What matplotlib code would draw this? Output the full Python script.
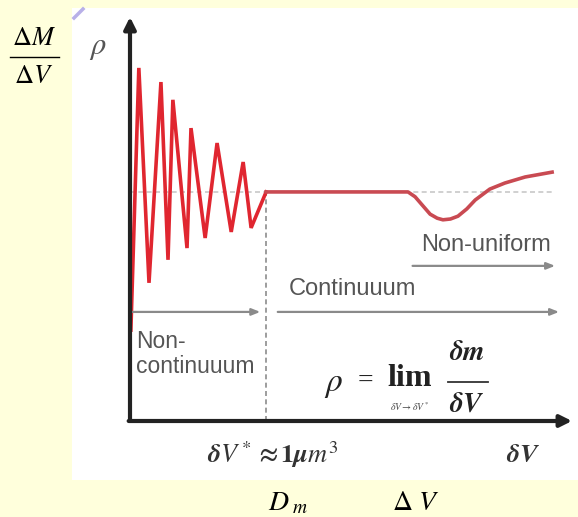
import matplotlib
matplotlib.use("Agg")
import matplotlib.pyplot as plt
from matplotlib.patches import Rectangle
from matplotlib.lines import Line2D

plt.rcParams['mathtext.fontset'] = 'stix'

# ---- data (δV in arbitrary units 0..10, ρ in arbitrary units 0..10) ----
osc_v   = [0.02, 0.20, 0.43, 0.70, 0.86, 0.97, 1.29, 1.38, 1.70, 1.97, 2.29, 2.56, 2.74, 3.08]
osc_rho = [2.25, 8.74, 3.42, 8.39, 3.99, 7.95, 4.28, 7.25, 4.53, 6.88, 4.68, 6.41, 4.78, 5.67]
cont_v   = [3.08, 6.29, 6.45, 6.60, 6.79, 6.95, 7.08, 7.25, 7.42, 7.62, 7.81, 8.14, 8.48, 8.94, 9.55]
cont_rho = [5.67, 5.67, 5.55, 5.36, 5.12, 5.02, 4.98, 5.00, 5.07, 5.25, 5.47, 5.74, 5.89, 6.04, 6.16]
rho_level = 5.67
dv_star = 3.08
continuum_rho = 2.70
nonuniform_rho = 3.84
nonuniform_start = 6.33
labels = {"nonuniform": "Non-uniform", "continuum": "Continuuum",
          "noncont": "Non-\ncontinuuum"}

W, H = 578, 517
fig = plt.figure(figsize=(W / 100, H / 100), dpi=100, facecolor='#FFFFDC')

def F(x, y):
    return (x / W, 1 - y / H)

# white picture area
fig.add_artist(Rectangle(F(72, 480), (578 - 72) / W, (480 - 8) / H,
                         transform=fig.transFigure, facecolor='white',
                         edgecolor='none', zorder=0))
# small lavender mark in the corner
fig.add_artist(Line2D([74 / W, 83 / W], [1 - 18 / H, 1 - 9 / H],
                      transform=fig.transFigure, color='#B8B0E8', lw=2.5))

ax = fig.add_axes([130 / W, (H - 421) / H, (572 - 130) / W, (421 - 17) / H])
ax.set_xlim(0, 10)
ax.set_ylim(0, 10)
ax.axis('off')
ax.patch.set_alpha(0)

# reference level (dotted)
ax.plot([0, 9.6], [rho_level, rho_level], color='#C8C8C8', lw=1.2,
        ls=(0, (3, 2)), zorder=1)
# δV* vertical dashed
ax.plot([dv_star, dv_star], [0, rho_level], color='#8C8C8C', lw=1.2,
        ls=(0, (3, 2)), zorder=1)

# red curve
ax.plot(osc_v, osc_rho, color='#E02630', lw=2.6, solid_joinstyle='miter', zorder=3)
ax.plot(cont_v, cont_rho, color='#C94A52', lw=2.6, zorder=3)

# region arrows
arrow_kw = dict(arrowstyle='-|>,head_length=0.5,head_width=0.2', color='#8A8A8A', lw=1.6)
ax.annotate('', xy=(9.68, nonuniform_rho), xytext=(nonuniform_start, nonuniform_rho),
            arrowprops=arrow_kw)
ax.annotate('', xy=(9.77, continuum_rho), xytext=(3.28, continuum_rho),
            arrowprops=arrow_kw)
ax.annotate('', xy=(3.01, continuum_rho), xytext=(0.0, continuum_rho),
            arrowprops=arrow_kw)

# axes with arrow heads
ax_kw = dict(arrowstyle='-|>,head_length=0.7,head_width=0.35', color='#222222', lw=3.0,
             shrinkA=0, shrinkB=0)
ax.annotate('', xy=(10, 0), xytext=(-0.03, 0), arrowprops=ax_kw, zorder=4)
ax.annotate('', xy=(0, 10), xytext=(0, 0), arrowprops=ax_kw, zorder=4)

# region labels
sans = ['Liberation Sans', 'DejaVu Sans']
fig.text(*F(486, 245), labels["nonuniform"], fontsize=17, color='#555555',
         family=sans, ha='center', va='center')
fig.text(*F(352, 289), labels["continuum"], fontsize=17, color='#555555',
         family=sans, ha='center', va='center')
fig.text(*F(136, 354), labels["noncont"], fontsize=16.5, color='#555555',
         family=sans, ha='left', va='center', linespacing=1.1)

# formula
serif = ['Liberation Serif', 'DejaVu Serif']
fig.text(*F(334, 383), r'$\rho$', fontsize=24, color='#222222', ha='center', va='center')
fig.text(*F(365, 381), '=', fontsize=20, color='#222222', family=serif,
         ha='center', va='center')
fig.text(*F(410, 378), 'lim', fontsize=23, color='#222222', family=serif,
         weight='bold', ha='center', va='center')
fig.text(*F(410, 407), r'$\delta V\rightarrow\delta V^*$', fontsize=7, color='#444444',
         ha='center', va='center')
fig.text(*F(467, 352), r'$\boldsymbol{\delta m}$', fontsize=20, color='#222222',
         ha='center', va='center')
fig.add_artist(Line2D([448 / W, 488 / W], [1 - 382 / H, 1 - 382 / H],
                      transform=fig.transFigure, color='#333333', lw=1.3))
fig.text(*F(467, 404), r'$\boldsymbol{\delta V}$', fontsize=20, color='#222222',
         ha='center', va='center')

# ρ axis label
fig.text(*F(98, 47), r'$\rho$', fontsize=22, color='#555555', ha='center', va='center')

# bottom labels within picture
fig.text(*F(273, 455), r'$\boldsymbol{\delta V^* \approx 1\mu m^3}$', fontsize=19,
         color='#333333', ha='center', va='center')
fig.text(*F(523, 455), r'$\boldsymbol{\delta V}$', fontsize=19, color='#333333',
         ha='center', va='center')

# outer labels
fig.text(*F(34, 38), r'$\Delta M$', fontsize=19, color='black', ha='center', va='center')
fig.add_artist(Line2D([10 / W, 59 / W], [1 - 57 / H, 1 - 57 / H],
                      transform=fig.transFigure, color='black', lw=1.0))
fig.text(*F(34, 76), r'$\Delta V$', fontsize=19, color='black', ha='center', va='center')
fig.text(*F(288, 502), r'$D_{\ m}$', fontsize=20, color='black', ha='center', va='center')
fig.text(*F(416, 502), r'$\Delta\ V$', fontsize=20, color='black', ha='center', va='center')

fig.savefig('out.png', dpi=100, facecolor=fig.get_facecolor())
